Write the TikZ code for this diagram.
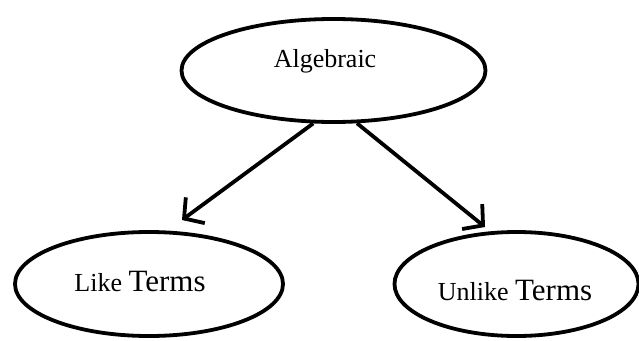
\documentclass[tikz,border=0pt]{standalone}
\usepackage{fontspec}
\setmainfont{Liberation Serif}
\usetikzlibrary{shapes.geometric,arrows.meta}
\tikzset{
  oval/.style={draw=black, line width=3.8pt, ellipse, inner sep=0pt},
  lbl/.style={inner sep=0pt, anchor=center},
  arr/.style={line width=3.8pt, -{Straight Barb[length=14pt,width=32pt,line width=3.8pt]}}
}
\begin{document}
\begin{tikzpicture}[x=1pt,y=-1pt]
\useasboundingbox (0,0) rectangle (639,340);
\node[oval, minimum width=304pt, minimum height=103pt] (top) at (333.5,70.5) {};
\node[oval, minimum width=268pt, minimum height=104pt] (left) at (149,284) {};
\node[oval, minimum width=244pt, minimum height=104pt] (right) at (516.5,284) {};
\node[lbl] (ttop) at (325,61) {\fontsize{26}{30}\selectfont Algebraic};
\node[lbl] (tleft) at (140,281) {\fontsize{26}{30}\selectfont Like \fontsize{31}{36}\selectfont Terms};
\node[lbl] (tright) at (515,290) {\fontsize{26}{30}\selectfont Unlike \fontsize{31}{36}\selectfont Terms};
\coordinate (lt) at (182,220);
\coordinate (rt) at (485,227);
\draw[arr] (top.-111) -- (lt);
\draw[arr] (top.-66) -- (rt);
\end{tikzpicture}
\end{document}
